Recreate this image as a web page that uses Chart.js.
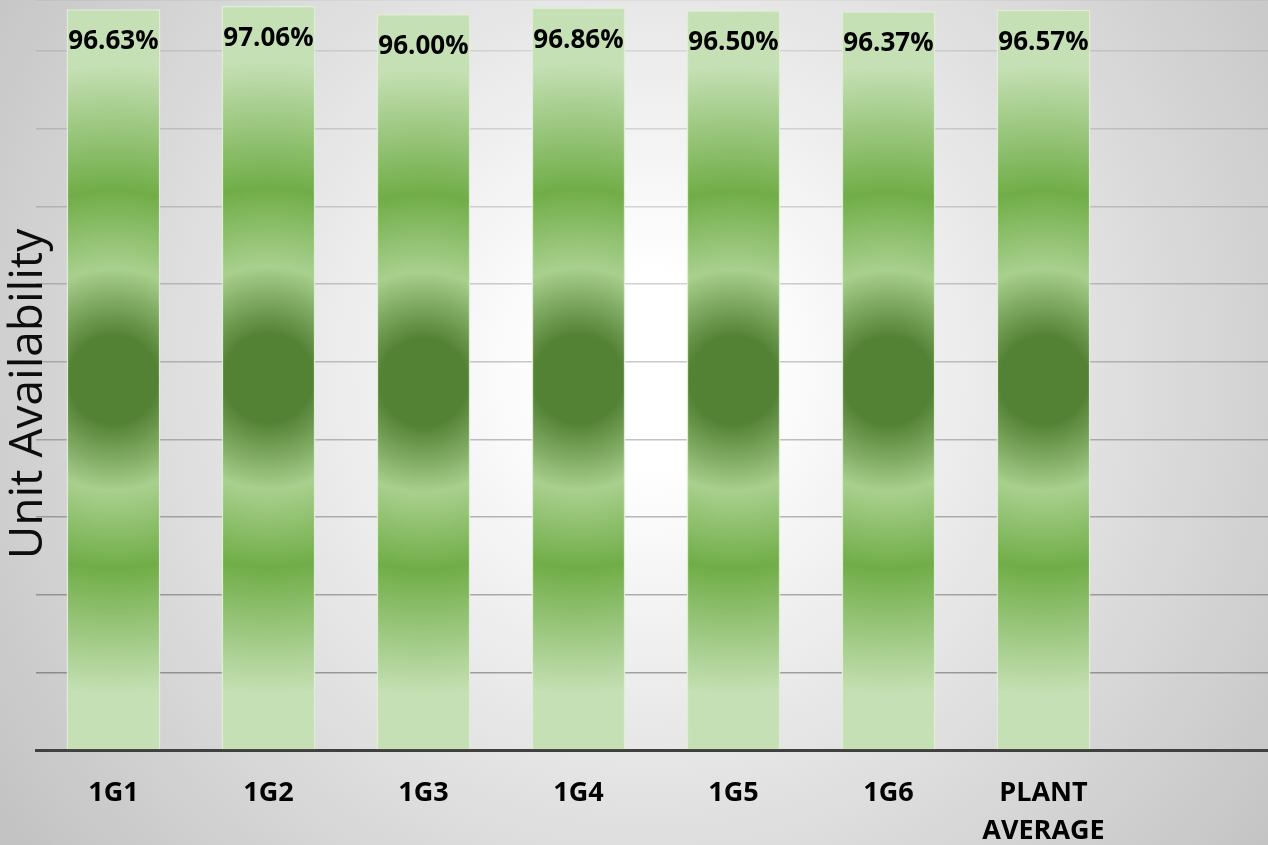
<!DOCTYPE html>
<html>
<head>
<meta charset="utf-8">
<script src="https://cdn.jsdelivr.net/npm/chart.js@4/dist/chart.umd.min.js"></script>
<style>
  html, body { margin: 0; padding: 0; background: #fff; overflow: hidden; }
  #wrap { width: 1276px; height: 845px; position: relative; }
</style>
</head>
<body>
<div id="wrap"><canvas id="c"></canvas></div>
<script>
// ---- data ----
const categories = ['1G1', '1G2', '1G3', '1G4', '1G5', '1G6', ['PLANT', 'AVERAGE']];
const availability = [96.63, 97.06, 96.00, 96.86, 96.50, 96.37, 96.57];
const axisTitle = 'Unit Availability';
// one empty slot at the right, as in the reference plot area
const labels = [...categories, ''];
const values = [...availability, null];

const DARK = [84, 130, 53], LIGHTBAND = [169, 208, 142], MID = [112, 173, 71], PALE = [197, 224, 180];
const rgb = a => `rgb(${a[0]},${a[1]},${a[2]})`;

function barFill(c) {
  const chart = c.chart;
  const { ctx, chartArea, scales } = chart;
  if (!chartArea || c.type !== 'data' || c.raw == null) return rgb(PALE);
  const x = scales.x.getPixelForValue(c.dataIndex);
  const yTop = scales.y.getPixelForValue(c.raw);
  const yBase = scales.y.getPixelForValue(0);
  const cy = (yTop + yBase) / 2;
  const R = (yBase - yTop) / 2;
  const g = ctx.createRadialGradient(x, cy, 0, x, cy, R);
  g.addColorStop(0, rgb(DARK));
  g.addColorStop(0.12, rgb(DARK));
  g.addColorStop(0.30, rgb(LIGHTBAND));
  g.addColorStop(0.51, rgb(MID));
  g.addColorStop(0.85, rgb(PALE));
  g.addColorStop(1, rgb(PALE));
  return g;
}

const bgPlugin = {
  id: 'bg',
  beforeDraw(chart) {
    const { ctx, width, height } = chart;
    ctx.save();
    const g = ctx.createRadialGradient(650, 370, 0, 650, 370, 800);
    g.addColorStop(0, '#ffffff');
    g.addColorStop(0.12, '#ffffff');
    g.addColorStop(1, '#c2c2c2');
    ctx.fillStyle = g;
    ctx.fillRect(0, 0, width, height);
    ctx.restore();
  }
};

const labelPlugin = {
  id: 'valueLabels',
  afterDatasetsDraw(chart) {
    const { ctx } = chart;
    const meta = chart.getDatasetMeta(0);
    ctx.save();
    ctx.font = 'bold 26px "Open Sans"';
    ctx.fillStyle = '#000';
    ctx.textAlign = 'center';
    ctx.textBaseline = 'alphabetic';
    meta.data.forEach((el, i) => {
      const v = chart.data.datasets[0].data[i];
      if (v == null) return;
      ctx.fillText(v.toFixed(2) + '%', el.x, el.y + 40);
    });
    ctx.restore();
  }
};

const titlePlugin = {
  id: 'yTitle',
  afterDraw(chart) {
    const { ctx } = chart;
    ctx.save();
    ctx.translate(42, 394);
    ctx.rotate(-Math.PI / 2);
    ctx.font = '46px "Open Sans"';
    ctx.fillStyle = '#0d0d0d';
    ctx.textAlign = 'center';
    ctx.textBaseline = 'alphabetic';
    ctx.fillText(axisTitle, 0, 0);
    ctx.restore();
  }
};

new Chart(document.getElementById('c'), {
  type: 'bar',
  data: {
    labels: labels,
    datasets: [{
      data: values,
      backgroundColor: barFill,
      borderColor: 'rgb(222,238,212)',
      borderWidth: 1.5,
      barPercentage: 0.605,
      categoryPercentage: 1.0
    }]
  },
  options: {
    responsive: true,
    maintainAspectRatio: false,
    animation: false,
    devicePixelRatio: 1,
    layout: { padding: { left: 36, right: 0, top: 0, bottom: -29 } },
    plugins: { legend: { display: false }, tooltip: { enabled: false } },
    scales: {
      x: {
        offset: true,
        grid: { display: false, drawTicks: false },
        border: { display: true, color: '#404040', width: 3 },
        ticks: {
          color: '#000',
          font: { family: 'Open Sans', weight: 'bold', size: 27, lineHeight: '38px' },
          padding: 24,
          maxRotation: 0,
          autoSkip: false
        }
      },
      y: {
        min: 0,
        max: 97.84,
        bounds: 'data',
        ticks: { display: false, stepSize: 10.13, includeBounds: false },
        border: { display: false },
        grid: {
          drawTicks: false,
          lineWidth: 1.5,
          color: (c) => {
            const s = c.chart.scales.y;
            if (!s || !c.tick) return 'rgba(0,0,0,0.2)';
            const y = s.getPixelForValue(c.tick.value);
            const a = 0.08 + 0.27 * Math.max(0, Math.min(1, y / 749));
            return `rgba(0,0,0,${a.toFixed(3)})`;
          }
        }
      }
    }
  },
  plugins: [bgPlugin, labelPlugin, titlePlugin]
});
</script>
</body>
</html>
